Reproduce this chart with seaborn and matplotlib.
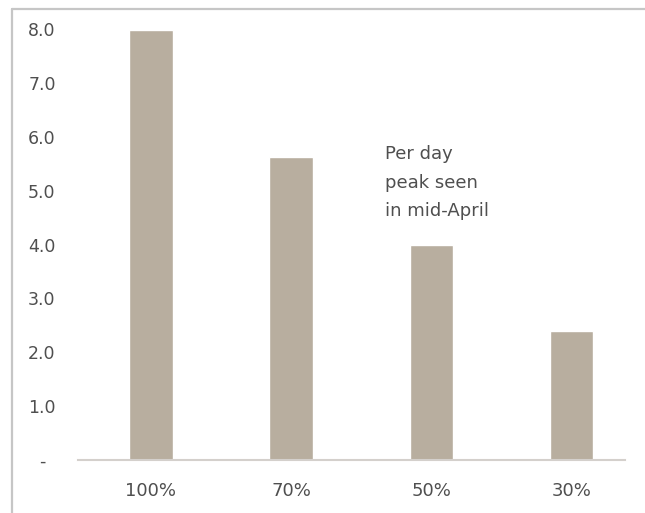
import matplotlib
matplotlib.use("Agg")
import matplotlib.pyplot as plt
import seaborn as sns
from matplotlib.lines import Line2D

# data
categories = ["100%", "70%", "50%", "30%"]
values = [7.99, 5.62, 4.0, 2.4]
ytick_vals = [0, 1, 2, 3, 4, 5, 6, 7, 8]
ytick_labels = ["-", "1.0", "2.0", "3.0", "4.0", "5.0", "6.0", "7.0", "8.0"]
note = "Per day\npeak seen\nin mid-April"

sns.set_theme(style="white")
plt.rcParams['font.family'] = ['DejaVu Sans']

fig = plt.figure(figsize=(6.45, 5.13), dpi=100)
W, H = 645, 513
ax = fig.add_axes([78 / W, 1 - 460 / H, (625 - 78) / W, (460 - 14) / H])

sns.barplot(x=categories, y=values, color="#b8ae9f", width=0.31, saturation=1, ax=ax)

ax.set_xlim(-0.52, 3.38)
ax.set_ylim(0, 8.28)
ax.set_yticks(ytick_vals)
ax.set_yticklabels(ytick_labels)
for lab in ax.get_yticklabels():
    lab.set_horizontalalignment("center")
ax.tick_params(axis="y", length=0, pad=26, labelsize=12.5, labelcolor="#4f4f4f")
ax.tick_params(axis="x", length=0, pad=16, labelsize=13, labelcolor="#4f4f4f")

for s in ["top", "right", "left"]:
    ax.spines[s].set_visible(False)
ax.spines["bottom"].set_color("#d4d0cc")
ax.spines["bottom"].set_linewidth(1.5)

ax.text(1.67, 5.84, note, fontsize=13, color="#4f4f4f", va="top", ha="left",
        linespacing=1.75)

# outer frame: left and top borders
fig.add_artist(Line2D([12 / W, 12 / W], [0, 1 - 9 / H], color="#c6c6c6", lw=1.6,
                      transform=fig.transFigure))
fig.add_artist(Line2D([12 / W, 1], [1 - 9 / H, 1 - 9 / H], color="#c6c6c6", lw=1.6,
                      transform=fig.transFigure))

fig.savefig("out.png", dpi=100)
